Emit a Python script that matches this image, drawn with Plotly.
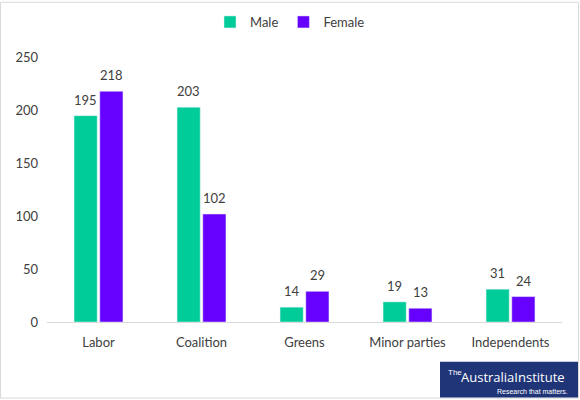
import plotly.graph_objects as go

categories = ["Labor", "Coalition", "Greens", "Minor parties", "Independents"]
male = [195, 203, 14, 19, 31]
female = [218, 102, 29, 13, 24]
y_ticks = [0, 50, 100, 150, 200, 250]

W, H = 580, 400
L, R, T, B = 47, 18, 56, 78
PW, PH = W - L - R, H - T - B


def px_x(p):
    return (p - L) / PW


def px_y(p):
    return (H - B - p) / PH


FONT = "Lato, 'Open Sans', sans-serif"
TXT = "#404040"
MALE_C, FEMALE_C = "#00CC99", "#6600FF"

fig = go.Figure()
fig.add_trace(go.Bar(name="Male", x=categories, y=male, marker_color=MALE_C))
fig.add_trace(go.Bar(name="Female", x=categories, y=female, marker_color=FEMALE_C))

shapes = [
    # outer border
    dict(type="rect", xref="paper", yref="paper",
         x0=px_x(0.5), x1=px_x(W - 1.5), y0=px_y(H - 1.5), y1=px_y(0.5),
         line=dict(color="#D9D9D9", width=1), fillcolor="rgba(0,0,0,0)", layer="below"),
    # logo box
    dict(type="rect", xref="paper", yref="paper",
         x0=px_x(440), x1=px_x(578), y0=px_y(398), y1=px_y(362),
         line=dict(width=0), fillcolor="#1F3578"),
]

annotations = []
# data labels sit a little above each bar
for vals, shift in ((male, -13), (female, 13)):
    for cat, v in zip(categories, vals):
        annotations.append(dict(x=cat, y=v, xshift=shift, yshift=16, text=str(v),
                                showarrow=False, yanchor="middle",
                                font=dict(size=13, color=TXT)))

annotations += [
    dict(xref="paper", yref="paper", x=px_x(446), y=px_y(373), xanchor="left", yanchor="middle",
         text="The", showarrow=False,
         font=dict(family="'Liberation Sans Narrow', sans-serif", size=8, color="white")),
    dict(xref="paper", yref="paper", x=px_x(459), y=px_y(377), xanchor="left", yanchor="middle",
         text="AustraliaInstitute", showarrow=False,
         font=dict(family="'Open Sans', sans-serif", size=13, color="white")),
    dict(xref="paper", yref="paper", x=px_x(570), y=px_y(392), xanchor="right", yanchor="middle",
         text="Research that matters.", showarrow=False,
         font=dict(family="'Liberation Sans Narrow', sans-serif", size=7, color="white")),
]

fig.update_layout(
    width=W, height=H,
    margin=dict(l=L, r=R, t=T, b=B),
    paper_bgcolor="white", plot_bgcolor="white",
    font=dict(family=FONT, size=13, color=TXT),
    barmode="group", bargap=0.5, bargroupgap=0.1,
    showlegend=True,
    legend=dict(orientation="h", xref="container", yref="container",
                x=0.5, xanchor="center", y=1 - 22 / H, yanchor="middle",
                font=dict(size=13, color=TXT), itemwidth=30, traceorder="normal"),
    xaxis=dict(showgrid=False, showline=True, linecolor="#D9D9D9", ticks="",
               ticklabelstandoff=8, tickfont=dict(size=13, color=TXT)),
    yaxis=dict(range=[0, 250], tickvals=y_ticks, showgrid=False, showline=False,
               zeroline=False, ticks="", ticklabelstandoff=8,
               tickfont=dict(size=13, color=TXT)),
    shapes=shapes,
    annotations=annotations,
)

fig.write_html("out.html", config={"displayModeBar": False},
               post_script="document.body.style.margin='0';")
